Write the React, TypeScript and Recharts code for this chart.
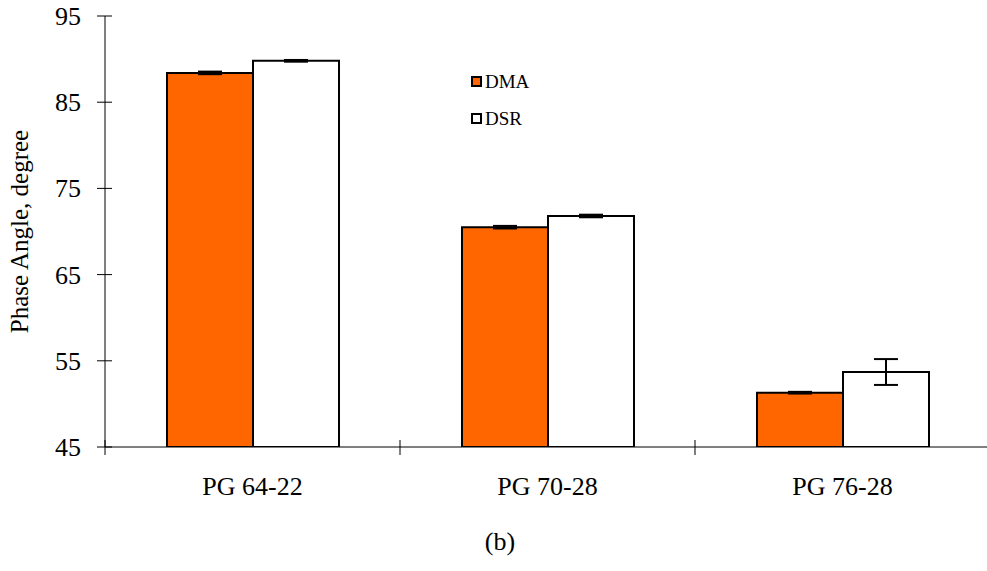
import React from 'react';
import { BarChart, Bar, XAxis, YAxis, ErrorBar, Legend } from 'recharts';

const grades = ['PG 64-22', 'PG 70-28', 'PG 76-28'];
const dmaValues = [88.4, 70.5, 51.3];
const dmaErrors = [0.15, 0.15, 0.1];
const dsrValues = [89.8, 71.8, 53.7];
const dsrErrors = [0.1, 0.15, 1.5];
const yTicks = [45, 55, 65, 75, 85, 95];

const data = grades.map((grade, i) => ({
  grade,
  DMA: dmaValues[i],
  dmaErr: dmaErrors[i],
  DSR: dsrValues[i],
  dsrErr: dsrErrors[i],
}));

const FONT = '"Liberation Serif", "Times New Roman", serif';
const CHART_W = 995;
const CHART_H = 571;
const MARGIN = { top: 16, right: 5, bottom: 64, left: 0 };
const Y_AXIS_W = 105;
const PLOT_W = CHART_W - MARGIN.left - MARGIN.right - Y_AXIS_W;
const STEP = PLOT_W / grades.length;

const YTick = (props: any) => {
  const { x, y, payload } = props;
  return (
    <g>
      <line x1={x - 8} x2={x + 7} y1={y} y2={y} stroke="#000" strokeWidth={1} />
      <text
        x={x - 24}
        y={y}
        dy={9}
        textAnchor="end"
        fontFamily={FONT}
        fontSize={26}
        fill="#000"
      >
        {payload.value}
      </text>
    </g>
  );
};

const XTick = (props: any) => {
  const { x, y, payload, index } = props;
  const left = x - STEP / 2;
  const right = x + STEP / 2;
  return (
    <g>
      <line x1={left} x2={left} y1={y - 7} y2={y + 8} stroke="#000" strokeWidth={1} />
      {index === grades.length - 1 && (
        <line x1={right} x2={right} y1={y - 7} y2={y + 8} stroke="#000" strokeWidth={1} />
      )}
      <text
        x={x}
        y={y + 48}
        textAnchor="middle"
        fontFamily={FONT}
        fontSize={26}
        fill="#000"
      >
        {payload.value}
      </text>
    </g>
  );
};

const LegendBox = (props: any) => {
  const { payload } = props;
  return (
    <div style={{ fontFamily: FONT, fontSize: 19, color: '#000' }}>
      {(payload || []).map((entry: any) => (
        <div
          key={entry.value}
          style={{ display: 'flex', alignItems: 'center', height: 37, lineHeight: '37px' }}
        >
          <span
            style={{
              display: 'inline-block',
              width: 7,
              height: 7,
              border: '2px solid #000',
              background: entry.value === 'DMA' ? '#FF6600' : '#FFFFFF',
              marginRight: 3,
            }}
          />
          <span>{entry.value}</span>
        </div>
      ))}
    </div>
  );
};

export default function App() {
  return (
    <div
      style={{
        position: 'absolute',
        left: 0,
        top: 0,
        width: 987,
        height: 571,
        overflow: 'hidden',
        background: '#fff',
      }}
    >
      <BarChart
        width={CHART_W}
        height={CHART_H}
        data={data}
        margin={MARGIN}
        barCategoryGap={62}
        barGap={0}
      >
        <XAxis
          dataKey="grade"
          axisLine={{ stroke: '#000', strokeWidth: 1 }}
          tickLine={false}
          tickSize={0}
          tickMargin={0}
          height={60}
          tick={<XTick />}
          interval={0}
        />
        <YAxis
          domain={[45, 95]}
          ticks={yTicks}
          allowDataOverflow
          width={Y_AXIS_W}
          axisLine={{ stroke: '#000', strokeWidth: 1 }}
          tickLine={false}
          tickSize={0}
          tickMargin={0}
          tick={<YTick />}
          label={{
            value: 'Phase Angle, degree',
            angle: -90,
            position: 'insideLeft',
            offset: 19,
            style: { fontFamily: FONT, fontSize: 25, fill: '#000', textAnchor: 'middle' },
          }}
        />
        <Legend
          layout="vertical"
          align="center"
          verticalAlign="middle"
          content={<LegendBox />}
          wrapperStyle={{ left: 471, top: 63, width: 120 }}
        />
        <Bar dataKey="DMA" fill="#FF6600" stroke="#000" strokeWidth={2} isAnimationActive={false}>
          <ErrorBar dataKey="dmaErr" width={12} stroke="#000" strokeWidth={2} />
        </Bar>
        <Bar dataKey="DSR" fill="#FFFFFF" stroke="#000" strokeWidth={2} isAnimationActive={false}>
          <ErrorBar dataKey="dsrErr" width={12} stroke="#000" strokeWidth={2} />
        </Bar>
      </BarChart>
      <div
        style={{
          position: 'absolute',
          left: 0,
          width: 1000,
          top: 527,
          textAlign: 'center',
          fontFamily: FONT,
          fontSize: 26,
          color: '#000',
        }}
      >
        (b)
      </div>
    </div>
  );
}
